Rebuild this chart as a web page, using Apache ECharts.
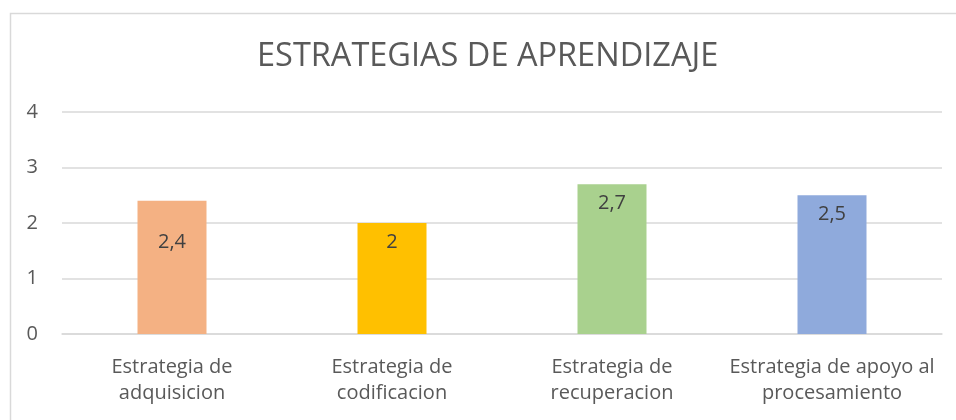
<!DOCTYPE html>
<html>
<head>
<meta charset="utf-8">
<script src="https://cdn.jsdelivr.net/npm/echarts@6/dist/echarts.min.js"></script>
<style>
  html, body { margin: 0; padding: 0; background: #fff; }
  #chart { width: 956px; height: 420px; }
</style>
</head>
<body>
<div id="chart"></div>
<script>
  var categorias = ['Estrategia de\nadquisicion', 'Estrategia de\ncodificacion', 'Estrategia de\nrecuperacion', 'Estrategia de apoyo al\nprocesamiento'];
  var valores = [2.4, 2, 2.7, 2.5];
  var ejeY = [0, 1, 2, 3, 4];

  var colores = ['#F4B183', '#FFC000', '#A9D18E', '#8FAADC'];
  var fuente = 'Open Sans';

  var mChart = echarts.init(document.getElementById('chart'));

  var datos = valores.map(function (v, i) {
    return {
      value: v,
      itemStyle: { color: colores[i] },
      // la etiqueta de la primera barra esta mas abajo en el original
      label: { distance: i === 0 ? 31 : 9 }
    };
  });

  var option = {
    animation: false,
    textStyle: { fontFamily: fuente },
    title: {
      text: 'ESTRATEGIAS DE APRENDIZAJE',
      left: 257,
      top: 40,
      padding: 0,
      textStyle: { fontSize: 32.5, fontWeight: 'normal', color: '#595959', fontFamily: fuente }
    },
    graphic: [{
      type: 'rect',
      shape: { x: 10.5, y: 13.5, width: 1000, height: 1000 },
      style: { fill: 'none', stroke: '#D9D9D9', lineWidth: 1.5 },
      silent: true
    }],
    grid: { left: 62, right: 14, top: 112, bottom: 86 },
    xAxis: {
      type: 'category',
      data: categorias,
      axisTick: { show: false },
      axisLine: { lineStyle: { color: '#D9D9D9', width: 1.5 } },
      axisLabel: { color: '#595959', fontSize: 20, lineHeight: 26, margin: 20, interval: 0 }
    },
    yAxis: {
      type: 'value',
      min: ejeY[0],
      max: ejeY[ejeY.length - 1],
      interval: 1,
      axisLine: { show: false },
      axisTick: { show: false },
      splitLine: { lineStyle: { color: '#D9D9D9', width: 1.5 } },
      axisLabel: { color: '#595959', fontSize: 20, margin: 24 }
    },
    series: [{
      type: 'bar',
      data: datos,
      barWidth: 69,
      label: {
        show: true,
        position: 'insideTop',
        color: '#404040',
        fontSize: 20,
        formatter: function (p) { return String(p.value).replace('.', ','); }
      }
    }]
  };

  mChart.setOption(option);
</script>
</body>
</html>
